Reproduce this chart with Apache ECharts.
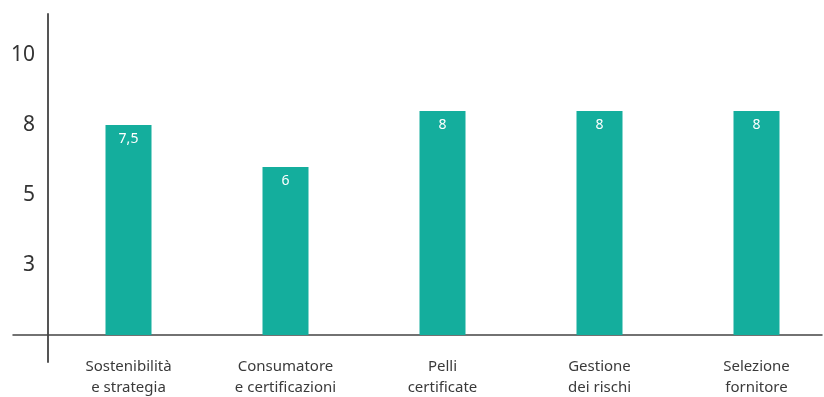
<!DOCTYPE html>
<html><head><meta charset="utf-8">
<script src="https://cdn.jsdelivr.net/npm/echarts@6/dist/echarts.min.js"></script>
<style>html,body{margin:0;padding:0;background:#fff}#c{width:824px;height:397px}</style>
</head><body><div id="c"></div>
<script>
const categories = ["Sostenibilità\ne strategia", "Consumatore\ne certificazioni", "Pelli\ncertificate", "Gestione\ndei rischi", "Selezione\nfornitore"];
const values = [7.5, 6, 8, 8, 8];
const yTicks = [2.5, 5, 7.5, 10];

const yMin = -0.96, yMax = 11.46;
const chart = echarts.init(document.getElementById('c'));
chart.setOption({
  animation: false,
  grid: [
    {left: 50, right: -11, top: 14, bottom: 35, outerBoundsMode: 'none', containLabel: false},
    {left: 13, right: 2, top: 14, bottom: 35, outerBoundsMode: 'none', containLabel: false}
  ],
  xAxis: [
    {type: 'category', gridIndex: 0, data: categories,
     axisLine: {show: false, onZero: false}, axisTick: {show: false},
     axisLabel: {fontFamily: 'Noto Sans', fontSize: 15, color: '#3a3a3a', lineHeight: 21, margin: -6}},
    {type: 'value', gridIndex: 1, min: 0, max: 1,
     axisLine: {show: true, onZero: true, lineStyle: {color: '#444', width: 1.5}},
     axisTick: {show: false}, axisLabel: {show: false}, splitLine: {show: false}}
  ],
  yAxis: [
    {type: 'value', gridIndex: 0, min: yMin, max: yMax, offset: 2,
     axisLine: {show: true, lineStyle: {color: '#555', width: 2}},
     axisTick: {show: false}, splitLine: {show: false},
     axisLabel: {customValues: yTicks, formatter: v => String(Math.round(v)),
       fontFamily: 'Noto Sans', fontSize: 21, color: '#333', margin: 13}},
    {type: 'value', gridIndex: 1, min: yMin, max: yMax, show: false}
  ],
  series: [{
    type: 'bar', xAxisIndex: 0, yAxisIndex: 0, data: values, barWidth: 46,
    itemStyle: {color: '#14ae9d'},
    label: {show: true, position: 'insideTop', distance: 7, color: '#fff',
      fontFamily: 'Noto Sans', fontSize: 14, formatter: p => String(p.value).replace('.', ',')}
  }]
});
</script></body></html>
